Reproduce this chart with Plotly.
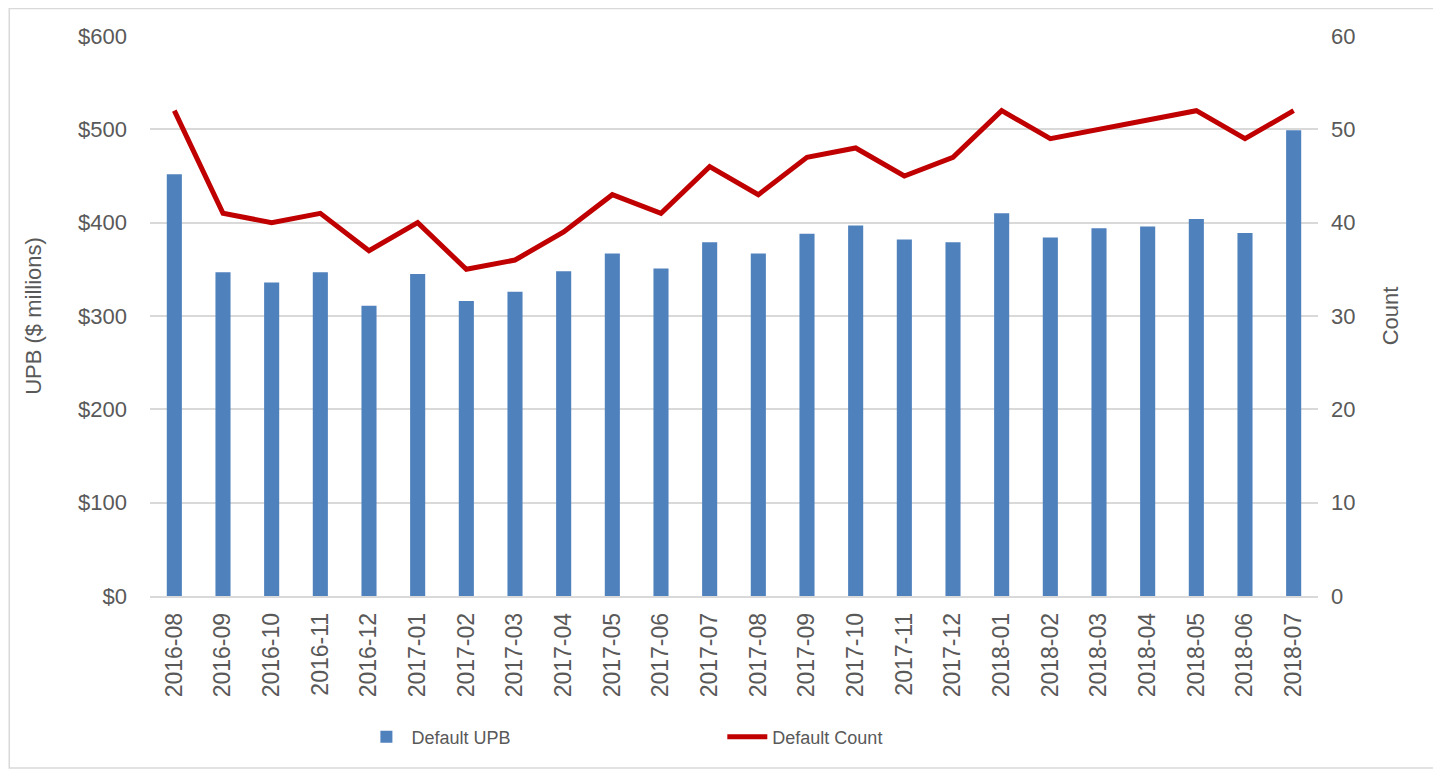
import plotly.graph_objects as go

months = ["2016-08", "2016-09", "2016-10", "2016-11", "2016-12", "2017-01", "2017-02", "2017-03",
          "2017-04", "2017-05", "2017-06", "2017-07", "2017-08", "2017-09", "2017-10", "2017-11",
          "2017-12", "2018-01", "2018-02", "2018-03", "2018-04", "2018-05", "2018-06", "2018-07"]
default_upb = [452, 347, 336, 347, 311, 345, 316, 326, 348, 367, 351, 379, 367, 388, 397, 382,
               379, 410, 384, 394, 396, 404, 389, 499]
default_count = [52, 41, 40, 41, 37, 40, 35, 36, 39, 43, 41, 46, 43, 47, 48, 45,
                 47, 52, 49, 50, 51, 52, 49, 52]

FONT = "Liberation Sans, Arial, sans-serif"
GREY = "#595959"

fig = go.Figure()
fig.add_trace(go.Bar(x=months, y=default_upb, name="Default UPB",
                     marker=dict(color="#4F81BD", line=dict(width=0)), yaxis="y",
                     legend="legend"))
fig.add_trace(go.Scatter(x=months, y=default_count, name="Default Count", mode="lines",
                         line=dict(color="#C00000", width=5), yaxis="y2",
                         legend="legend2"))

fig.update_layout(
    width=1441, height=773,
    margin=dict(l=142, r=131, t=28, b=185),
    paper_bgcolor="white", plot_bgcolor="white",
    font=dict(family=FONT, color=GREY, size=20),
    bargap=0.69,
    showlegend=True,
    legend=dict(orientation="h", x=0.181, xanchor="left", y=-0.252, yanchor="middle",
                font=dict(size=18, color=GREY), itemwidth=40),
    legend2=dict(orientation="h", x=0.49, xanchor="left", y=-0.252, yanchor="middle",
                 font=dict(size=18, color=GREY), itemwidth=40),
    xaxis=dict(type="category", tickangle=-90, tickfont=dict(size=23, color=GREY),
               showline=True, linecolor="#d9d9d9", linewidth=1.5, ticks="", showgrid=False,
               ticklabelstandoff=6),
    yaxis=dict(range=[0, 600], dtick=100, tickprefix="$", showgrid=True, gridcolor="#d9d9d9",
               gridwidth=1.5, zeroline=False, tickfont=dict(size=22, color=GREY),
               ticklabelstandoff=22,
               title=dict(text="UPB ($ millions)", font=dict(size=22, color=GREY), standoff=30)),
    yaxis2=dict(range=[0, 60], dtick=10, overlaying="y", side="right", showgrid=False,
                zeroline=False, tickfont=dict(size=22, color=GREY), ticklabelstandoff=12,
                title=dict(text="Count", font=dict(size=22, color=GREY), standoff=28)),
    shapes=[dict(type="rect", xref="paper", yref="paper", x0=-0.1205, x1=1.101, y0=-0.307, y1=1.049,
                 line=dict(color="#d9d9d9", width=1.5), fillcolor="rgba(0,0,0,0)", layer="below")],
)

fig.write_html("out.html")
